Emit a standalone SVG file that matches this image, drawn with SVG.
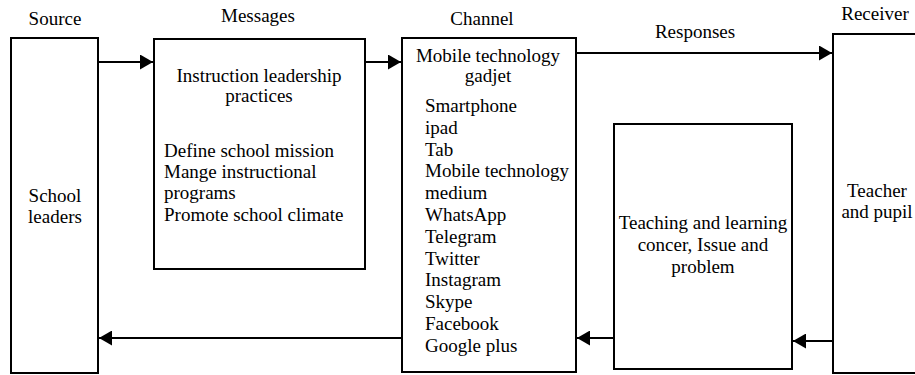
<svg xmlns="http://www.w3.org/2000/svg" width="915" height="375" viewBox="0 0 915 375" font-family="'Liberation Serif', 'DejaVu Serif', serif">
<style>
  .box { fill: #ffffff; stroke: #000000; stroke-width: 2; }
  .t { font-family: 'Liberation Serif', 'DejaVu Serif', serif; font-size: 19px; fill: #000000; }
  .c { text-anchor: middle; }
  .conn { stroke: #000000; stroke-width: 2; fill: none; marker-end: url(#ah); }
</style>
<defs>
  <marker id="ah" markerUnits="userSpaceOnUse" markerWidth="14" markerHeight="15" refX="13" refY="7.5" orient="auto">
    <path d="M0,0 L13,7.5 L0,15 Z" fill="#000000"/>
  </marker>
</defs>
<rect width="915" height="375" fill="#ffffff"/>

<g id="labels">
  <text class="t c" x="55" y="25">Source</text>
  <text class="t c" x="258" y="22">Messages</text>
  <text class="t c" x="482" y="25">Channel</text>
  <text class="t c" x="695" y="38">Responses</text>
  <text class="t c" x="875" y="20">Receiver</text>
</g>

<g id="source">
  <rect class="box" x="11" y="38" width="87" height="335"/>
  <text class="t c" x="55" y="202">School</text>
  <text class="t c" x="55" y="223">leaders</text>
</g>

<g id="messages">
  <rect class="box" x="154" y="39" width="211" height="230"/>
  <text class="t c" x="259" y="82">Instruction leadership</text>
  <text class="t c" x="259" y="102">practices</text>
  <text class="t" x="164" y="157">Define school mission</text>
  <text class="t" x="164" y="178">Mange instructional</text>
  <text class="t" x="164" y="199">programs</text>
  <text class="t" x="164" y="221">Promote school climate</text>
</g>

<g id="channel">
  <rect class="box" x="402" y="38" width="174" height="334"/>
  <text class="t c" x="488" y="62">Mobile technology</text>
  <text class="t c" x="488" y="82">gadjet</text>
  <text class="t" x="425" y="112">Smartphone</text>
  <text class="t" x="425" y="133.8">ipad</text>
  <text class="t" x="425" y="155.6">Tab</text>
  <text class="t" x="425" y="177.4">Mobile technology</text>
  <text class="t" x="425" y="199.2">medium</text>
  <text class="t" x="425" y="221">WhatsApp</text>
  <text class="t" x="425" y="242.8">Telegram</text>
  <text class="t" x="425" y="264.6">Twitter</text>
  <text class="t" x="425" y="286.4">Instagram</text>
  <text class="t" x="425" y="308.2">Skype</text>
  <text class="t" x="425" y="330">Facebook</text>
  <text class="t" x="425" y="351.8">Google plus</text>
</g>

<g id="feedback">
  <rect class="box" x="614" y="124" width="178" height="245"/>
  <text class="t c" x="703" y="229">Teaching and learning</text>
  <text class="t c" x="703" y="251">concer, Issue and</text>
  <text class="t c" x="703" y="273">problem</text>
</g>

<g id="receiver">
  <rect class="box" x="833" y="34" width="100" height="339"/>
  <text class="t c" x="877" y="197">Teacher</text>
  <text class="t c" x="877" y="218">and pupil</text>
</g>

<g id="connectors">
  <line class="conn" x1="98" y1="62" x2="153" y2="62"/>
  <line class="conn" x1="365" y1="62" x2="401" y2="62"/>
  <line class="conn" x1="576" y1="53" x2="832" y2="53"/>
  <line class="conn" x1="833" y1="341" x2="793" y2="341"/>
  <line class="conn" x1="614" y1="338" x2="577" y2="338"/>
  <line class="conn" x1="402" y1="338" x2="99" y2="338"/>
</g>
</svg>
